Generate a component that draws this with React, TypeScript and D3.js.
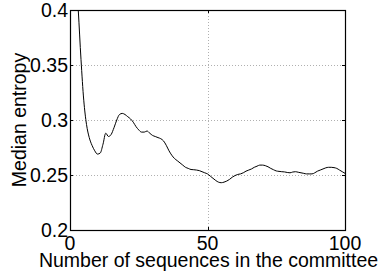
import { useEffect, useRef } from "react"
import * as d3 from "d3"

// committee size (number of sequences)
const committeeSizes = [
  1, 2, 3, 4, 5, 6, 7, 8, 9, 10, 11, 12, 13, 14, 15, 16, 17, 18, 19, 20, 21, 22, 23, 24, 25, 26, 27, 28, 29, 30, 31, 32,
  33, 34, 35, 36, 37, 38, 39, 40, 41, 42, 43, 44, 45, 46, 47, 48, 49, 50, 51, 52, 53, 54, 55, 56, 57, 58, 59, 60, 61,
  62, 63, 64, 65, 66, 67, 68, 69, 70, 71, 72, 73, 74, 75, 76, 77, 78, 79, 80, 81, 82, 83, 84, 85, 86, 87, 88, 89, 90,
  91, 92, 93, 94, 95, 96, 97, 98, 99, 100,
]

// median entropy
const medianEntropy = [
  0.48, 0.44, 0.4, 0.355, 0.318, 0.296, 0.284, 0.277, 0.272, 0.269, 0.27, 0.278, 0.288, 0.285, 0.287, 0.293, 0.3, 0.305,
  0.306, 0.305, 0.303, 0.301, 0.298, 0.294, 0.291, 0.289, 0.289, 0.29, 0.288, 0.286, 0.285, 0.284, 0.283, 0.281, 0.277,
  0.272, 0.268, 0.265, 0.263, 0.261, 0.259, 0.257, 0.256, 0.255, 0.2548, 0.2545, 0.254, 0.253, 0.252, 0.251, 0.249,
  0.247, 0.245, 0.2435, 0.243, 0.2435, 0.2445, 0.246, 0.248, 0.2495, 0.2505, 0.251, 0.252, 0.2535, 0.2545, 0.2555,
  0.257, 0.258, 0.259, 0.259, 0.2585, 0.2575, 0.256, 0.2548, 0.2537, 0.2533, 0.253, 0.2528, 0.2523, 0.252, 0.2527,
  0.253, 0.2525, 0.252, 0.2515, 0.251, 0.251, 0.251, 0.252, 0.2535, 0.2545, 0.2555, 0.2565, 0.257, 0.257, 0.2567,
  0.256, 0.2545, 0.253, 0.2515,
]

const xTicks = [0, 50, 100]
const yTicks = [0.2, 0.25, 0.3, 0.35, 0.4]

export default function App() {
  const svgRef = useRef(null)

  useEffect(() => {
    const width = 378
    const height = 275
    const margin = { top: 10, right: 33, bottom: 45, left: 70 }
    const innerW = width - margin.left - margin.right
    const innerH = height - margin.top - margin.bottom

    const svg = d3.select(svgRef.current).attr("width", width).attr("height", height)
    svg.selectAll("*").remove()

    const x = d3.scaleLinear().domain([0, 100]).range([0, innerW])
    const y = d3.scaleLinear().domain([0.2, 0.4]).range([innerH, 0])

    const font = "Liberation Sans, Arial, Helvetica, sans-serif"
    const fontSize = "19.5px"

    svg
      .append("defs")
      .append("clipPath")
      .attr("id", "plot-clip")
      .append("rect")
      .attr("width", innerW)
      .attr("height", innerH)

    const g = svg.append("g").attr("transform", `translate(${margin.left},${margin.top})`)

    // dotted grid
    g.selectAll(".gx")
      .data(xTicks)
      .enter()
      .append("line")
      .attr("x1", (d) => Math.round(x(d)) + 0.5)
      .attr("x2", (d) => Math.round(x(d)) + 0.5)
      .attr("y1", 0)
      .attr("y2", innerH)
      .attr("stroke", "#b0b0b0")
      .attr("stroke-dasharray", "1,2")

    g.selectAll(".gy")
      .data(yTicks)
      .enter()
      .append("line")
      .attr("x1", 0)
      .attr("x2", innerW)
      .attr("y1", (d) => Math.round(y(d)) + 0.5)
      .attr("y2", (d) => Math.round(y(d)) + 0.5)
      .attr("stroke", "#b0b0b0")
      .attr("stroke-dasharray", "1,2")

    // curve
    const line = d3
      .line<number>()
      .x((_, i) => x(committeeSizes[i]))
      .y((d) => y(d))
      .curve(d3.curveMonotoneX)

    g.append("path")
      .datum(medianEntropy)
      .attr("clip-path", "url(#plot-clip)")
      .attr("fill", "none")
      .attr("stroke", "#000")
      .attr("stroke-width", 1)
      .attr("d", line)

    // box
    g.append("rect")
      .attr("x", 0.5)
      .attr("y", 0.5)
      .attr("width", innerW)
      .attr("height", innerH)
      .attr("fill", "none")
      .attr("stroke", "#000")
      .attr("stroke-width", 1.2)

    // inward ticks on all sides
    const tl = 3
    yTicks.forEach((t) => {
      const yy = Math.round(y(t)) + 0.5
      g.append("line").attr("x1", 0).attr("x2", tl).attr("y1", yy).attr("y2", yy).attr("stroke", "#000")
      g.append("line").attr("x1", innerW - tl).attr("x2", innerW).attr("y1", yy).attr("y2", yy).attr("stroke", "#000")
    })
    xTicks.forEach((t) => {
      const xx = Math.round(x(t)) + 0.5
      g.append("line").attr("x1", xx).attr("x2", xx).attr("y1", innerH - tl).attr("y2", innerH).attr("stroke", "#000")
      g.append("line").attr("x1", xx).attr("x2", xx).attr("y1", 0).attr("y2", tl).attr("stroke", "#000")
    })

    // tick labels
    g.selectAll(".yl")
      .data(yTicks)
      .enter()
      .append("text")
      .attr("x", -2)
      .attr("y", (d) => y(d))
      .attr("dy", "0.37em")
      .attr("text-anchor", "end")
      .style("font-family", font)
      .style("font-size", fontSize)
      .text((d) => d3.format("")(d))

    g.selectAll(".xl")
      .data(xTicks)
      .enter()
      .append("text")
      .attr("x", (d) => x(d))
      .attr("y", innerH + 20)
      .attr("text-anchor", "middle")
      .style("font-family", font)
      .style("font-size", fontSize)
      .text((d) => d)

    // axis titles
    g.append("text")
      .attr("x", innerW / 2 + 1)
      .attr("y", innerH + 37)
      .attr("text-anchor", "middle")
      .style("font-family", font)
      .style("font-size", fontSize)
      .text("Number of sequences in the committee")

    g.append("text")
      .attr("transform", `translate(${26 - margin.left},${innerH / 2}) rotate(-90)`)
      .attr("text-anchor", "middle")
      .style("font-family", font)
      .style("font-size", fontSize)
      .text("Median entropy")
  }, [])

  return <svg ref={svgRef} style={{ position: "absolute", left: 0, top: 0 }}></svg>
}
